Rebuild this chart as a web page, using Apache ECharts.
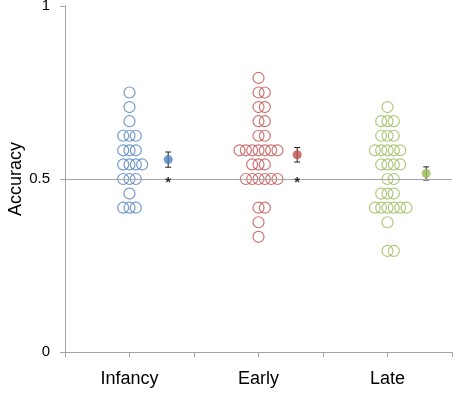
<!DOCTYPE html>
<html><head><meta charset="utf-8">
<script src="https://cdn.jsdelivr.net/npm/echarts@6/dist/echarts.min.js"></script>
<style>html,body{margin:0;padding:0;background:#fff}#c{width:457px;height:393px}</style>
</head><body><div id="c"></div>
<script>
const categories = ["Infancy", "Early", "Late"];
const yTicks = [0, 0.5, 1];
// individual accuracies (each row of dots = one value, repeated)
const infancyValues = [0.750, 0.708, 0.667, 0.625, 0.625, 0.625, 0.583, 0.583, 0.583,
  0.542, 0.542, 0.542, 0.542, 0.500, 0.500, 0.500, 0.458, 0.417, 0.417, 0.417];
const earlyValues = [0.792, 0.750, 0.750, 0.708, 0.708, 0.667, 0.667, 0.625, 0.625,
  0.583, 0.583, 0.583, 0.583, 0.583, 0.583, 0.583, 0.542, 0.542, 0.542,
  0.500, 0.500, 0.500, 0.500, 0.500, 0.500, 0.417, 0.417, 0.375, 0.333];
const lateValues = [0.708, 0.667, 0.667, 0.667, 0.625, 0.625, 0.625,
  0.583, 0.583, 0.583, 0.583, 0.583, 0.542, 0.542, 0.542, 0.542, 0.500, 0.500,
  0.458, 0.458, 0.458, 0.417, 0.417, 0.417, 0.417, 0.417, 0.417, 0.375, 0.292, 0.292];
const means = [0.556, 0.570, 0.516];
const meanErr = [0.022, 0.021, 0.019];
const significant = [true, true, false];
const colors = ["#4F81BD", "#C0504D", "#9BBB59"];

const groups = [infancyValues, earlyValues, lateValues];
const STEP = 0.098;      // horizontal spacing between stacked dots (x units)
const MEAN_OFFSET = 0.6; // mean marker placed right of the dot column

function swarm(values, center) {
  const counts = new Map();
  values.forEach(v => counts.set(v, (counts.get(v) || 0) + 1));
  const out = [];
  counts.forEach((n, v) => {
    const start = -Math.floor((n - 1) / 2);
    for (let k = 0; k < n; k++) out.push([center + (start + k) * STEP, v]);
  });
  return out;
}

const series = [];
groups.forEach((vals, i) => {
  const cx = 2 * i + 1;
  series.push({
    type: 'scatter', data: swarm(vals, cx), symbol: 'circle', symbolSize: 11,
    itemStyle: { color: 'rgba(0,0,0,0)', borderColor: colors[i], borderWidth: 1.2 },
    silent: true, z: 3
  });
  series.push({
    type: 'custom', silent: true, z: 4,
    data: [[cx + MEAN_OFFSET, means[i] - meanErr[i], means[i] + meanErr[i]]],
    renderItem: function (params, api) {
      const x = api.value(0);
      const lo = api.coord([x, api.value(1)]);
      const hi = api.coord([x, api.value(2)]);
      const w = 3;
      const st = { stroke: '#222', lineWidth: 1 };
      return { type: 'group', children: [
        { type: 'line', shape: { x1: lo[0], y1: lo[1], x2: hi[0], y2: hi[1] }, style: st },
        { type: 'line', shape: { x1: lo[0] - w, y1: lo[1], x2: lo[0] + w, y2: lo[1] }, style: st },
        { type: 'line', shape: { x1: hi[0] - w, y1: hi[1], x2: hi[0] + w, y2: hi[1] }, style: st }
      ]};
    }
  });
  series.push({
    type: 'scatter', data: [[cx + MEAN_OFFSET, means[i]]], symbol: 'circle', symbolSize: 9,
    itemStyle: { color: colors[i] }, silent: true, z: 5
  });
  if (significant[i]) {
    series.push({
      type: 'scatter', data: [[cx + MEAN_OFFSET, 0.5]], symbolSize: 0, silent: true, z: 6,
      label: { show: true, formatter: '*', position: 'inside', offset: [0, 4],
        color: '#000', fontSize: 15, fontWeight: 'bold', fontFamily: 'Liberation Sans' }
    });
  }
});

const chart = echarts.init(document.getElementById('c'), null, { renderer: 'canvas' });
chart.setOption({
  animation: false,
  textStyle: { fontFamily: 'Liberation Sans' },
  grid: { left: 65, right: 5, top: 6, bottom: 41, containLabel: false, outerBoundsMode: 'none' },
  xAxis: {
    type: 'value', min: 0, max: 2 * categories.length, interval: 1,
    axisLine: { lineStyle: { color: '#a6a6a6' } },
    axisTick: { show: true, length: 5, lineStyle: { color: '#a6a6a6' } },
    splitLine: { show: false },
    axisLabel: {
      margin: 18, fontSize: 18, color: '#000',
      formatter: v => (v % 2 === 1 ? categories[(v - 1) / 2] : '')
    }
  },
  yAxis: {
    type: 'value', min: yTicks[0], max: yTicks[yTicks.length - 1], interval: 0.5,
    name: 'Accuracy', nameLocation: 'middle', nameGap: 40, nameRotate: 90,
    nameMoveOverlap: false,
    nameTextStyle: { fontSize: 18, color: '#000' },
    axisLine: { show: true, lineStyle: { color: '#a6a6a6' } },
    axisTick: { show: true, length: 5, lineStyle: { color: '#a6a6a6' } },
    axisLabel: { margin: 15, fontSize: 15, color: '#000', formatter: v => String(v) },
    splitLine: { show: false }
  },
  series: series.concat([{
    type: 'line', data: [], silent: true,
    markLine: { silent: true, symbol: 'none', label: { show: false },
      lineStyle: { color: '#a6a6a6', type: 'solid', width: 1 },
      data: [{ yAxis: 0.5 }] }
  }])
});
</script></body></html>
